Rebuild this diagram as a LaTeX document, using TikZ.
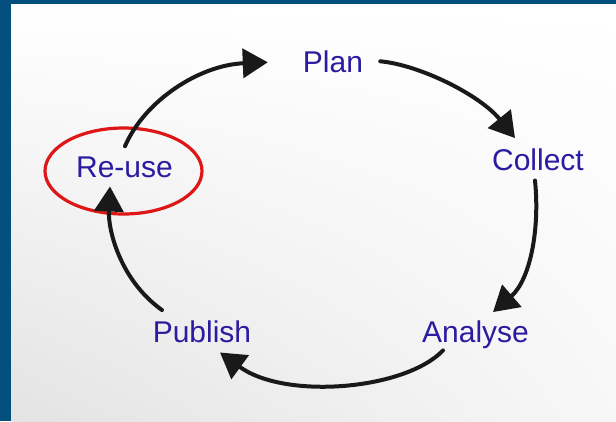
\documentclass[tikz,border=0pt]{standalone}
\usepackage{fontspec}
\setmainfont{Liberation Sans}
\usetikzlibrary{arrows.meta,calc,shadings}
\definecolor{frameblue}{RGB}{3,80,126}
\definecolor{labelblue}{RGB}{42,28,160}
\definecolor{ringred}{RGB}{222,22,22}
\tikzset{
  stage/.style={anchor=base, inner sep=0pt, text=labelblue, font=\fontsize{30}{36}\selectfont},
  cyclearrow/.style={draw=black!90, line width=4pt, line cap=round,
    -{Triangle[length=25pt,width=29pt]}},
  ring/.style={draw=ringred, line width=3.2pt}
}
\begin{document}
\begin{tikzpicture}[x=1pt,y=-1pt]
\useasboundingbox (0,0) rectangle (616,421);
\fill[frameblue] (0,0) rectangle (616,421);
\shade[upper left=white, upper right=white, lower left=black!11, lower right=black!3]
  (11,4) rectangle (616,421);

\node[stage] (plan)    at (333,72)    {Plan};
\node[stage] (collect) at (538,170)   {Collect};
\node[stage] (analyse) at (475.5,342) {Analyse};
\node[stage] (publish) at (202,342)   {Publish};
\node[stage] (reuse)   at (124.5,177) {Re-use};

\draw[ring] (123.5,171) ellipse [x radius=78.5, y radius=43];

\draw[cyclearrow] ($(reuse.north)+(0.5,-10)$) .. controls (145,100) and (200,65) .. ($(plan.west)+(-35,1)$);
\draw[cyclearrow] ($(plan.east)+(17,0)$) .. controls (420,65) and (480,95) .. ($(collect.north)+(-23,-10)$);
\draw[cyclearrow] ($(collect.south)+(-3,10)$) .. controls (540,230) and (530,280) .. ($(analyse.north)+(17.5,-8)$);
\draw[cyclearrow] ($(analyse.south)+(-32.5,2)$) .. controls (405,390) and (285,400) .. ($(publish.south)+(18,10)$);
\draw[cyclearrow] ($(publish.north)+(-40,-10)$) .. controls (120,280) and (108,230) .. ($(reuse.south)+(-14.5,9)$);
\end{tikzpicture}
\end{document}
